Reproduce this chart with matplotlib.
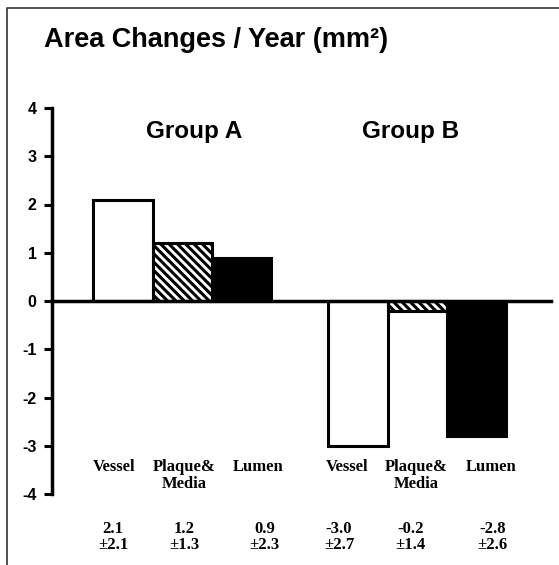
import matplotlib
matplotlib.use("Agg")
import matplotlib.pyplot as plt
from matplotlib.lines import Line2D

# ---- data ----
groups = ["Group A", "Group B"]
categories = ["Vessel", "Plaque&\nMedia", "Lumen"]
group_a = [2.1, 1.2, 0.9]
group_b = [-3.0, -0.2, -2.8]
sd_a = [2.1, 1.3, 2.3]
sd_b = [2.7, 1.4, 2.6]
yticks = [4, 3, 2, 1, 0, -1, -2, -3, -4]
title = "Area Changes / Year (mm²)"

# ---- layout ----
W, H = 559, 565
fig = plt.figure(figsize=(W / 100, H / 100), dpi=100)
plt.rcParams["hatch.linewidth"] = 2.2

px_unit = 59.2
x0_px = 123
ax_left_px, ax_right_px = 52, 551
y4_px, ym4_px = 108, 494

ax = fig.add_axes([ax_left_px / W, 1 - ym4_px / H,
                   (ax_right_px - ax_left_px) / W, (ym4_px - y4_px) / H])
ax.set_xlim((ax_left_px - x0_px) / px_unit, (ax_right_px - x0_px) / px_unit)
ax.set_ylim(-4, 4)

pos_a = [0, 1, 2]
pos_b = [3.97, 4.97, 5.97]
styles = [dict(facecolor="white", hatch=None),
          dict(facecolor="white", hatch="\\\\\\\\"),
          dict(facecolor="black", hatch=None)]
for vals, pos in ((group_a, pos_a), (group_b, pos_b)):
    for v, p, st in zip(vals, pos, styles):
        ax.bar(p, v, width=1.0, color=st["facecolor"], edgecolor="black",
               linewidth=2.2, hatch=st["hatch"], zorder=2)

# spines
for s in ["top", "right"]:
    ax.spines[s].set_visible(False)
ax.spines["bottom"].set_position(("data", 0))
ax.spines["bottom"].set_linewidth(2.5)
ax.spines["bottom"].set_zorder(3)
ax.spines["left"].set_linewidth(2.5)
ax.set_xticks([])
ax.set_yticks(yticks)
ax.set_yticklabels([str(t) for t in yticks], fontfamily="Liberation Sans",
                   fontweight="bold", fontsize=11.5)
ax.tick_params(axis="y", length=6, width=2.2, pad=5)

# group labels
group_x = [1.2, 4.86]
for g, gx in zip(groups, group_x):
    ax.text(gx, 3.52, g, ha="center", va="center", fontsize=17.5,
            fontfamily="Liberation Sans", fontweight="bold")

# category labels and values
cat_off = [-0.15, 0.04, 0.29]
cat_off_b = [-0.19, -0.01, 0.25]
val_off = [-0.17, 0.03, 0.39]
val_off_b = [-0.32, -0.11, 0.27]
serif = dict(fontfamily="Liberation Serif", fontsize=12, fontweight="bold",
             ha="center", va="top", clip_on=False)
for vals, sds, pos, co, vo in ((group_a, sd_a, pos_a, cat_off, val_off),
                               (group_b, sd_b, pos_b, cat_off_b, val_off_b)):
    for c, v, s, p, o1, o2 in zip(categories, vals, sds, pos, co, vo):
        ax.text(p + o1, -3.28, c, linespacing=1.05, **serif)
        ax.text(p + o2, -4.55, f"{v:.1f}\n±{s:.1f}", linespacing=1.05, **serif)

# title
fig.text(44 / W, 1 - 40 / H, title, ha="left", va="center", fontsize=19.5,
         fontfamily="Liberation Sans", fontweight="bold")

# frame (left and top)
fig.add_artist(Line2D([7 / W, 7 / W, 1], [0, 1 - 8 / H, 1 - 8 / H],
                      transform=fig.transFigure, color="#333333", linewidth=1.2))

fig.savefig("out.png", dpi=100, facecolor="white")
